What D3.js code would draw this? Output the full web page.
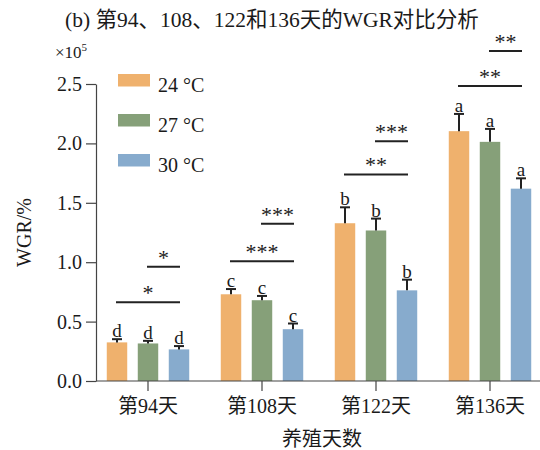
<!DOCTYPE html>
<html>
<head>
<meta charset="utf-8">
<script src="https://cdn.jsdelivr.net/npm/d3@7"></script>
<style>
  body { margin: 0; background: #fff; }
  svg text { font-family: "Liberation Serif", "Times New Roman", "Noto Sans CJK SC", serif; fill: #1a1a1a; }
</style>
</head>
<body>
<svg id="chart" width="540" height="450"></svg>
<script>
// data (units of 1e5 %)
const categories = ["第94天", "第108天", "第122天", "第136天"];
const series = ["24 °C", "27 °C", "30 °C"];
const colors = ["#EFB16D", "#86A079", "#87ABCD"];

const means = {
    "24 °C": [0.325, 0.730, 1.328, 2.103],
    "27 °C": [0.316, 0.680, 1.267, 2.013],
    "30 °C": [0.266, 0.436, 0.763, 1.619]
};
const errors = {
    "24 °C": [0.027, 0.044, 0.134, 0.145],
    "27 °C": [0.022, 0.036, 0.100, 0.109],
    "30 °C": [0.028, 0.048, 0.090, 0.087]
};
const letters = ["d", "c", "b", "a"];

// significance brackets: lower one 24 vs 30, upper one 27 vs 30
const sigLowerLabels = ["*", "***", "**", "**"];
const sigLowerLevels = [0.663, 1.007, 1.739, 2.483];
const sigUpperLabels = ["*", "***", "***", "**"];
const sigUpperLevels = [0.961, 1.323, 2.019, 2.777];

const yTicks = [0, 0.5, 1.0, 1.5, 2.0, 2.5];

const svg = d3.select("#chart");
const width = 540;
const axisLeftX = 96;
const baseY = 381;
const topY = 84;

const y = d3.scaleLinear().domain([0, 2.5]).range([baseY, topY]);

const x0 = d3.scaleBand()
    .domain(categories)
    .range([91, 547])
    .padding(0);

const x1 = d3.scaleBand()
    .domain(series)
    .range([-46.5, 46.5])
    .paddingInner(0.34)
    .paddingOuter(0.17);

const barCenter = (ci, s) => x0(categories[ci]) + x0.bandwidth() / 2 + x1(s) + x1.bandwidth() / 2;

// title
svg.append("text")
    .attr("x", 65)
    .attr("y", 27)
    .style("font-size", "21.5px")
    .text("(b) 第94、108、122和136天的WGR对比分析");

// ×10^5
const mult = svg.append("text")
    .attr("x", 55)
    .attr("y", 58)
    .style("font-size", "17px");
mult.append("tspan").text("×10");
mult.append("tspan").attr("dy", -7).style("font-size", "11px").text("5");

// bars
const rows = [];
series.forEach(s => {
    categories.forEach((c, i) => {
        rows.push({ s, c, i, v: means[s][i], e: errors[s][i] });
    });
});

const g = svg.append("g");

g.selectAll("rect.bar")
    .data(rows)
    .enter()
    .append("rect")
    .attr("class", "bar")
    .attr("x", d => x0(d.c) + x0.bandwidth() / 2 + x1(d.s))
    .attr("y", d => y(d.v))
    .attr("width", x1.bandwidth())
    .attr("height", d => baseY - y(d.v))
    .attr("fill", d => colors[series.indexOf(d.s)]);

// error bars (upper only)
g.selectAll("line.err")
    .data(rows)
    .enter()
    .append("line")
    .attr("x1", d => barCenter(d.i, d.s))
    .attr("x2", d => barCenter(d.i, d.s))
    .attr("y1", d => y(d.v))
    .attr("y2", d => y(d.v + d.e))
    .attr("stroke", "#222")
    .attr("stroke-width", 2);

g.selectAll("line.cap")
    .data(rows)
    .enter()
    .append("line")
    .attr("x1", d => barCenter(d.i, d.s) - 5)
    .attr("x2", d => barCenter(d.i, d.s) + 5)
    .attr("y1", d => y(d.v + d.e))
    .attr("y2", d => y(d.v + d.e))
    .attr("stroke", "#222")
    .attr("stroke-width", 2);

g.selectAll("text.letter")
    .data(rows)
    .enter()
    .append("text")
    .attr("x", d => barCenter(d.i, d.s))
    .attr("y", d => y(d.v + d.e) - 2)
    .attr("text-anchor", "middle")
    .style("font-size", "19px")
    .text(d => letters[d.i]);

// significance brackets
const brackets = [];
categories.forEach((c, i) => {
    brackets.push({ i, from: series[0], to: series[2], level: sigLowerLevels[i], label: sigLowerLabels[i] });
    brackets.push({ i, from: series[1], to: series[2], level: sigUpperLevels[i], label: sigUpperLabels[i] });
});

g.selectAll("line.sig")
    .data(brackets)
    .enter()
    .append("line")
    .attr("x1", d => barCenter(d.i, d.from) - 1)
    .attr("x2", d => barCenter(d.i, d.to) + 1)
    .attr("y1", d => y(d.level))
    .attr("y2", d => y(d.level))
    .attr("stroke", "#222")
    .attr("stroke-width", 2);

g.selectAll("text.sig")
    .data(brackets)
    .enter()
    .append("text")
    .attr("x", d => (barCenter(d.i, d.from) + barCenter(d.i, d.to)) / 2)
    .attr("y", d => y(d.level) - 2)
    .attr("text-anchor", "middle")
    .style("font-size", "22px")
    .text(d => d.label);

// y axis
const yAxis = svg.append("g")
    .attr("transform", `translate(${axisLeftX},0)`)
    .call(d3.axisLeft(y)
        .tickValues(yTicks)
        .tickFormat(d3.format(".1f"))
        .tickSize(10)
        .tickSizeOuter(0)
        .tickPadding(4));
yAxis.selectAll("text").style("font-size", "20px").attr("fill", "#1a1a1a");
yAxis.selectAll("line, path").attr("stroke", "#444").attr("stroke-width", 1.2);

// x axis
const xAxis = svg.append("g")
    .attr("transform", `translate(0,${baseY})`)
    .call(d3.axisBottom(x0).tickSize(10).tickPadding(8));
xAxis.select(".domain").remove();
xAxis.append("line")
    .attr("x1", axisLeftX)
    .attr("x2", width)
    .attr("stroke", "#444")
    .attr("stroke-width", 1.2);
xAxis.selectAll("text").style("font-size", "20px").attr("fill", "#1a1a1a");
xAxis.selectAll(".tick line").attr("stroke", "#444").attr("stroke-width", 1.2);

// axis titles
svg.append("text")
    .attr("transform", "rotate(-90)")
    .attr("x", -(baseY + topY) / 2)
    .attr("y", 31)
    .attr("text-anchor", "middle")
    .style("font-size", "20px")
    .text("WGR/%");

svg.append("text")
    .attr("x", 322)
    .attr("y", 446)
    .attr("text-anchor", "middle")
    .style("font-size", "20px")
    .text("养殖天数");

// legend
const legend = svg.append("g");
series.forEach((s, i) => {
    legend.append("rect")
        .attr("x", 118)
        .attr("y", 74 + i * 40)
        .attr("width", 32)
        .attr("height", 12.5)
        .attr("fill", colors[i]);
    legend.append("text")
        .attr("x", 158)
        .attr("y", 92 + i * 40)
        .style("font-size", "20px")
        .text(s);
});
</script>
</body>
</html>
